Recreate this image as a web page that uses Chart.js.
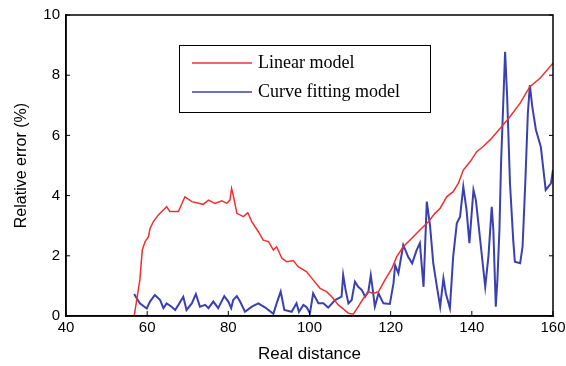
<!DOCTYPE html>
<html lang="en">
<head>
  <meta charset="UTF-8">
  <title>Relative error vs real distance</title>
  <script src="https://cdn.jsdelivr.net/npm/chart.js"></script>
  <style>
    body { margin: 0; background: #ffffff; }
    #chart-container { width: 566px; height: 366px; position: relative; }
    canvas { display: block; }
  </style>
</head>
<body>
<div id="chart-container">
  <canvas id="errChart" width="566" height="366"></canvas>
</div>
<script>
// Linear model (red)
const linearX = [56.8, 58.2, 58.8, 59.5, 60.3, 60.7, 61.5, 62.7, 63.6, 64.8, 65.6, 67.7, 69.3, 71, 73.8, 75.1, 76.7, 78.4, 79.6, 80.4, 80.8, 81.2, 82.1, 83.7, 84.8, 85.8, 87.4, 88.6, 89.9, 91.1, 91.9, 93.2, 94.4, 96, 97.2, 99.3, 100.9, 102.6, 104.2, 105.5, 107.1, 109.6, 110.8, 112, 113.3, 114.5, 115.7, 117, 118.6, 120.3, 121.5, 123.1, 125.2, 127.2, 129.3, 130.9, 132.2, 133.8, 135.4, 136.7, 137.9, 139.6, 141.2, 142.8, 144.5, 147, 149.4, 151.9, 154.3, 156.8, 160];
const linearY = [0, 1.2, 2.2, 2.47, 2.63, 2.9, 3.13, 3.35, 3.47, 3.63, 3.47, 3.47, 3.96, 3.8, 3.71, 3.85, 3.74, 3.83, 3.74, 3.85, 4.24, 4.02, 3.41, 3.3, 3.43, 3.13, 2.8, 2.52, 2.47, 2.19, 2.3, 1.92, 1.8, 1.84, 1.64, 1.47, 1.2, 0.92, 0.81, 0.64, 0.37, 0.09, 0.06, 0.31, 0.59, 0.81, 0.75, 0.81, 1.2, 1.58, 1.97, 2.3, 2.58, 2.86, 3.13, 3.41, 3.58, 3.96, 4.13, 4.41, 4.85, 5.13, 5.46, 5.63, 5.85, 6.24, 6.62, 7.07, 7.62, 7.9, 8.4];

// Curve fitting model (blue)
const curveX = [56.8, 57.4, 58.2, 59.9, 60.7, 61.9, 63.2, 64, 64.8, 66, 66.9, 67.7, 68.9, 69.7, 71, 72, 73, 74.3, 75.1, 76.3, 77.5, 79, 80, 80.7, 81.2, 82.1, 82.9, 84.1, 85.8, 87.4, 89, 91.1, 91.9, 92.9, 93.8, 95.6, 96.8, 97.4, 98.5, 99.3, 100.1, 100.9, 102.2, 103.4, 104.6, 106.3, 107.9, 108.3, 108.9, 109.6, 110.4, 111.2, 112, 112.9, 113.7, 114.5, 115.1, 115.6, 116.1, 117, 118.2, 119.8, 120.7, 121.1, 121.9, 123.1, 124.3, 125.3, 126.4, 127.2, 128.1, 128.9, 129.7, 130.5, 131.4, 132.2, 133, 133.6, 134.6, 135.4, 136.3, 137.1, 137.9, 138.7, 139.4, 140.4, 141, 142, 143.3, 144.1, 144.9, 145.3, 145.9, 146.3, 146.8, 147.2, 147.8, 148.2, 148.7, 149.4, 150.2, 150.6, 151.9, 152.5, 153.2, 153.8, 154.3, 154.9, 155.8, 157, 158.2, 159.5, 160];
const curveY = [0.73, 0.59, 0.42, 0.25, 0.48, 0.7, 0.53, 0.26, 0.42, 0.31, 0.2, 0.37, 0.64, 0.2, 0.42, 0.73, 0.31, 0.37, 0.26, 0.48, 0.26, 0.66, 0.48, 0.26, 0.53, 0.66, 0.48, 0.14, 0.31, 0.42, 0.29, 0.07, 0.42, 0.81, 0.2, 0.14, 0.42, 0.14, 0.37, 0.29, 0.09, 0.75, 0.42, 0.42, 0.28, 0.53, 0.64, 1.36, 0.86, 0.42, 0.53, 1.14, 0.97, 0.86, 0.64, 0.81, 1.36, 0.86, 0.31, 0.75, 0.42, 0.4, 1.09, 1.69, 1.42, 2.36, 1.97, 1.75, 2.19, 2.42, 0.97, 3.8, 3.0, 1.75, 0.97, 0.31, 1.25, 0.75, 0.26, 1.97, 3.08, 3.3, 4.3, 3.52, 2.42, 4.19, 3.85, 2.6, 0.97, 2.0, 3.63, 2.86, 0.31, 1.2, 2.86, 5.07, 7.29, 8.78, 7.29, 4.41, 2.52, 1.8, 1.75, 2.3, 4.52, 6.73, 7.67, 6.95, 6.18, 5.62, 4.19, 4.41, 4.85];

const xTicks = [40, 60, 80, 100, 120, 140, 160];
const yTicks = [0, 2, 4, 6, 8, 10];

function toPoints(xs, ys) {
  return xs.map(function (x, i) { return { x: x, y: ys[i] }; });
}

// box around the plot + inward tick marks (MATLAB style)
const boxPlugin = {
  id: 'boxPlugin',
  afterDraw: function (chart) {
    const ctx = chart.ctx;
    const a = chart.chartArea;
    const xs = chart.scales.x, ys = chart.scales.y;
    ctx.save();
    ctx.strokeStyle = '#000';
    ctx.lineWidth = 1.5;
    ctx.strokeRect(a.left, a.top, a.right - a.left, a.bottom - a.top);
    ctx.lineWidth = 1;
    xTicks.forEach(function (v) {
      const p = xs.getPixelForValue(v);
      ctx.beginPath(); ctx.moveTo(p, a.bottom); ctx.lineTo(p, a.bottom - 5); ctx.stroke();
    });
    yTicks.forEach(function (v) {
      const p = ys.getPixelForValue(v);
      ctx.beginPath(); ctx.moveTo(a.left, p); ctx.lineTo(a.left + 4, p); ctx.stroke();
      ctx.beginPath(); ctx.moveTo(a.right, p); ctx.lineTo(a.right - 4, p); ctx.stroke();
    });
    ctx.restore();
  }
};

// legend box drawn inside the plot
const legendPlugin = {
  id: 'legendBox',
  afterDraw: function (chart) {
    const ctx = chart.ctx;
    const bx = 179, by = 45, bw = 251, bh = 67;
    ctx.save();
    ctx.fillStyle = '#fff';
    ctx.fillRect(bx, by, bw, bh);
    ctx.strokeStyle = '#000';
    ctx.lineWidth = 1;
    ctx.strokeRect(bx + 0.5, by + 0.5, bw, bh);
    ctx.font = '18px "Liberation Serif", "Times New Roman", serif';
    ctx.textBaseline = 'middle';
    chart.data.datasets.forEach(function (ds, i) {
      const y = by + 18 + i * 29;
      ctx.strokeStyle = ds.borderColor;
      ctx.lineWidth = 1.5;
      ctx.beginPath(); ctx.moveTo(bx + 13, y); ctx.lineTo(bx + 73, y); ctx.stroke();
      ctx.fillStyle = '#000';
      ctx.fillText(ds.label, bx + 79, y);
    });
    ctx.restore();
  }
};

const ctx = document.getElementById('errChart').getContext('2d');
new Chart(ctx, {
  type: 'scatter',
  data: {
    datasets: [
      {
        label: 'Linear model',
        data: toPoints(linearX, linearY),
        showLine: true,
        borderColor: '#f03030',
        borderWidth: 1.5,
        pointRadius: 0,
        tension: 0
      },
      {
        label: 'Curve fitting model',
        data: toPoints(curveX, curveY),
        showLine: true,
        borderColor: '#3a40b0',
        borderWidth: 2,
        pointRadius: 0,
        tension: 0
      }
    ]
  },
  options: {
    responsive: false,
    animation: false,
    layout: { padding: { top: 15, right: 13, left: 0, bottom: 0 } },
    plugins: {
      legend: { display: false },
      tooltip: { enabled: false }
    },
    scales: {
      x: {
        type: 'linear',
        min: 40,
        max: 160,
        afterBuildTicks: function (s) { s.ticks = xTicks.map(function (v) { return { value: v }; }); },
        grid: { display: false, drawTicks: false },
        border: { color: '#000', width: 1.5 },
        ticks: { color: '#000', font: { family: 'Liberation Sans, Arial, sans-serif', size: 15 }, padding: 3, maxRotation: 0 },
        title: { display: true, text: 'Real distance', color: '#000', font: { family: 'Liberation Sans, Arial, sans-serif', size: 17 }, padding: { top: 4, bottom: 1 } },
        afterFit: function (s) { s.height = 50; s.paddingRight = 0; s.paddingLeft = 0; }
      },
      y: {
        min: 0,
        max: 10,
        afterBuildTicks: function (s) { s.ticks = yTicks.map(function (v) { return { value: v }; }); },
        grid: { display: false, drawTicks: false },
        border: { color: '#000', width: 1.5 },
        ticks: { color: '#000', font: { family: 'Liberation Sans, Arial, sans-serif', size: 15 }, padding: 6 },
        title: { display: true, text: 'Relative error (%)', color: '#000', font: { family: 'Liberation Sans, Arial, sans-serif', size: 16 }, padding: { top: 12, bottom: 4 } },
        afterFit: function (s) { s.width = 66; }
      }
    }
  },
  plugins: [boxPlugin, legendPlugin]
});
</script>
</body>
</html>
